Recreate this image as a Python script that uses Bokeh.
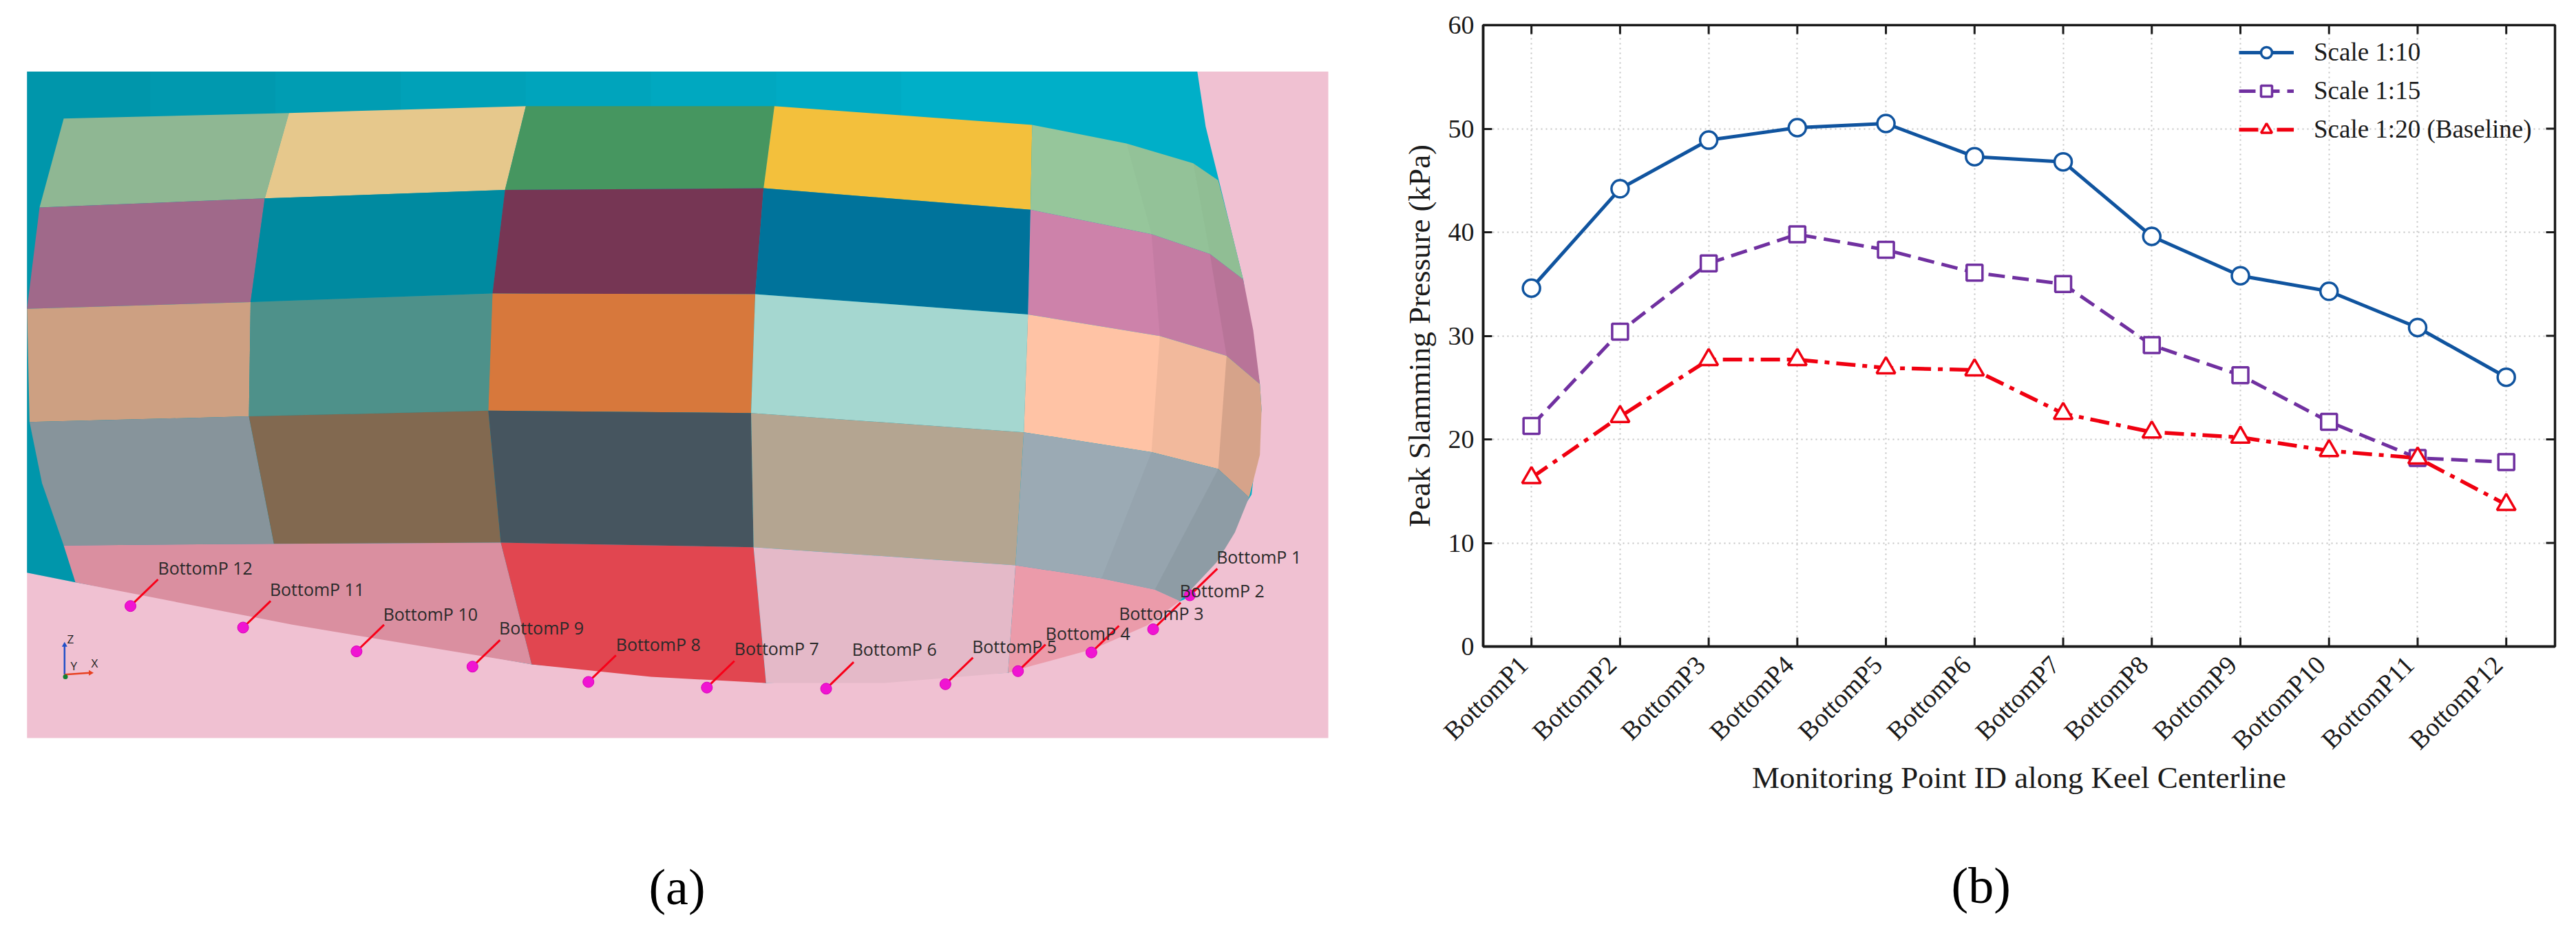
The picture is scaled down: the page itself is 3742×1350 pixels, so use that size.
from bokeh.plotting import figure
from bokeh.layouts import row
from bokeh.embed import file_html
from bokeh.resources import INLINE
from bokeh.models import FixedTicker, Legend, LegendItem, Range1d, Label, Title
from bokeh.core.properties import value
import math

# ---------- chart (b) data ----------
point_names = ["BottomP1", "BottomP2", "BottomP3", "BottomP4", "BottomP5", "BottomP6",
               "BottomP7", "BottomP8", "BottomP9", "BottomP10", "BottomP11", "BottomP12"]
point_ids = [1, 2, 3, 4, 5, 6, 7, 8, 9, 10, 11, 12]
scale_10 = [34.6, 44.2, 48.9, 50.1, 50.5, 47.3, 46.8, 39.6, 35.8, 34.3, 30.8, 26.0]
scale_15 = [21.3, 30.4, 37.0, 39.8, 38.3, 36.1, 35.0, 29.1, 26.2, 21.7, 18.2, 17.8]
scale_20 = [16.3, 22.2, 27.7, 27.7, 26.9, 26.7, 22.5, 20.7, 20.2, 18.9, 18.2, 13.7]
y_ticks = [0, 10, 20, 30, 40, 50, 60]

# ---------- panel (a) picture data (traced in picture units) ----------
bg_x = [32, 1592, 1592, 32]
bg_y = [53, 53, 1230, 1230]
teal_x = [32, 1435, 1445, 1460, 1490, 1510, 1512, 1500, 1420, 1208, 918, 637, 90, 32]
teal_y = [53, 53, 150, 240, 420, 605, 650, 800, 985, 1115, 1133, 1100, 955, 938]
band_x = [[32, 180, 180, 90, 32], [180, 330, 330, 180], [330, 480, 480, 330], [480, 630, 630, 480],
          [630, 780, 780, 630], [780, 930, 930, 780], [930, 1080, 1080, 930]]
band_y = [[53, 53, 890, 955, 938], [53, 53, 890, 890], [53, 53, 890, 890], [53, 53, 890, 890],
          [53, 53, 890, 890], [53, 53, 890, 890], [53, 53, 890, 890]]
band_alpha = [0.14, 0.12, 0.10, 0.08, 0.06, 0.04, 0.02]
grid_x = [[76, 346, 630, 928, 1237, 1350, 1430, 1460],
          [47, 317, 605, 915, 1235, 1380, 1450, 1490],
          [32, 300, 590, 905, 1232, 1390, 1470, 1510],
          [35, 298, 585, 900, 1227, 1380, 1460, 1497],
          [76, 328, 600, 903, 1217, 1320, 1384, 1414]]
grid_y = [[136, 126, 114, 114, 147, 180, 215, 245],
          [293, 277, 262, 259, 297, 340, 375, 420],
          [472, 460, 445, 446, 482, 520, 555, 605],
          [672, 662, 652, 656, 690, 725, 755, 805],
          [890, 887, 885, 893, 925, 948, 968, 988]]
edge_x = [[1475], [1502], [1512, 1510], [1480, 1458, 1430]]
edge_y = [[330], [510], [650, 730], [867, 920, 964]]
left_x = [[], [], [], [50]]
left_y = [[], [], [], [780]]
cell_colors = [["#8fb793", "#e6c88c", "#469660", "#f3c03c", "#96c69b"],
               ["#a0698a", "#008aa0", "#763654", "#00739b", "#cd82aa"],
               ["#cda082", "#4e918a", "#d7783c", "#a5d7d0", "#ffc3a5"],
               ["#87949b", "#826950", "#46555f", "#b4a591", "#9baab4"]]
shade_near = [0.015, 0.04, 0.05, 0.03]
shade_far = [0.04, 0.10, 0.16, 0.08]
keel_x = [[76, 328, 600, 637, 350, 90], [600, 903, 918, 780, 637], [903, 1217, 1208, 1060, 918],
          [1217, 1320, 1384, 1414, 1375, 1310, 1238, 1208]]
keel_y = [[890, 887, 885, 1100, 1030, 955], [885, 893, 1133, 1122, 1100], [893, 925, 1115, 1133, 1133],
          [925, 948, 968, 988, 1031, 1073, 1102, 1115]]
keel_colors = ["#da8fa0", "#e14650", "#e4b9c8", "#eb9baa"]
probe_names = ["BottomP 1", "BottomP 2", "BottomP 3", "BottomP 4", "BottomP 5", "BottomP 6",
               "BottomP 7", "BottomP 8", "BottomP 9", "BottomP 10", "BottomP 11", "BottomP 12"]
probe_x = [1426, 1382, 1308, 1220, 1133, 990, 847, 705, 566, 427, 291, 156]
probe_y = [978, 1038, 1079, 1112, 1135, 1143, 1141, 1131, 1104, 1077, 1035, 997]
label_x = [1458, 1414, 1341, 1253, 1165, 1021, 880, 738, 598, 459, 323, 189]
label_y = [910, 969, 1010, 1045, 1068, 1073, 1072, 1064, 1035, 1011, 967, 929]

SERIF = "Liberation Serif"

# ---------- panel (a) ----------
a = figure(width=1950, height=1334, output_backend="svg", toolbar_location=None,
           x_range=Range1d(0, 1609.3), y_range=Range1d(1548.6, -72.9),
           min_border=0, outline_line_color=None, frame_align=False)
a.axis.visible = False
a.grid.visible = False
a.patch(bg_x, bg_y, fill_color="#f0c1d2", line_color=None)
a.patch(teal_x, teal_y, fill_color="#00afc8", line_color=None)
a.patches(band_x, band_y, fill_color="#000000", fill_alpha=band_alpha, line_color=None)
xs, ys, cs = [], [], []
sx, sy, sa = [], [], []
for r in range(4):
    for c in range(5):
        idx = [c, c + 1] if c < 4 else [4, 5, 6, 7]
        px = [grid_x[r][i] for i in idx]
        py = [grid_y[r][i] for i in idx]
        if c == 4:
            px += edge_x[r]
            py += edge_y[r]
        px += [grid_x[r + 1][i] for i in reversed(idx)]
        py += [grid_y[r + 1][i] for i in reversed(idx)]
        if c == 0:
            px += left_x[r]
            py += left_y[r]
        xs.append(px)
        ys.append(py)
        cs.append(cell_colors[r][c])
    # darkening towards the turn of the hull on the right-hand side
    sx.append([grid_x[r][5], grid_x[r][6], grid_x[r + 1][6], grid_x[r + 1][5]])
    sy.append([grid_y[r][5], grid_y[r][6], grid_y[r + 1][6], grid_y[r + 1][5]])
    sa.append(shade_near[r])
    sx.append([grid_x[r][6], grid_x[r][7]] + edge_x[r] + [grid_x[r + 1][7], grid_x[r + 1][6]])
    sy.append([grid_y[r][6], grid_y[r][7]] + edge_y[r] + [grid_y[r + 1][7], grid_y[r + 1][6]])
    sa.append(shade_far[r])
a.patches(xs, ys, fill_color=cs, line_color=None)
a.patches(sx, sy, fill_color="#000000", fill_alpha=sa, line_color=None)
a.patches(keel_x, keel_y, fill_color=keel_colors, line_color=None)
a.segment(probe_x, probe_y, [x + 33 for x in probe_x], [y - 47 for y in probe_y],
          line_color="#f80018", line_width=3)
a.scatter(probe_x, probe_y, marker="circle", size=16, fill_color="#f014d2", line_color="#d800b8")
a.text(label_x, label_y, text=probe_names, text_font=value("Open Sans"), text_font_size="25px",
       text_color="#2a2a2a", text_baseline="middle", text_align="left")
a.segment([77, 77], [1118, 1118], [77, 107], [1068, 1115], line_color=["#2050c8", "#e84020"], line_width=2.5)
a.scatter([77], [1066], marker="triangle", size=8, fill_color="#2050c8", line_color=None)
a.scatter([108], [1115], marker="triangle", size=8, angle=-math.pi / 2, fill_color="#e84020", line_color=None)
a.scatter([78], [1122], marker="circle", size=7, fill_color="#108030", line_color=None)
a.text([84, 88, 113], [1055, 1103, 1098], text=["Z", "Y", "X"], text_font=value("Open Sans"),
       text_font_size="17px", text_color="#222222", text_baseline="middle", text_align="center")
a.add_layout(Label(x=983, y=1288, x_units="canvas", y_units="canvas", text="(a)", text_font=SERIF,
                   text_font_size="74px", text_align="center", text_baseline="middle", text_color="#000000"))

# ---------- panel (b) ----------
p = figure(width=1784, height=1342, output_backend="svg", toolbar_location=None,
           x_range=Range1d(0.455, 12.55), y_range=Range1d(0, 60),
           min_border_left=204, min_border_right=23, min_border_top=36, min_border_bottom=403,
           outline_line_color="#1a1a1a", outline_line_width=3.5, frame_align=False)
# the x labels sit 12 px left of their ticks, so their axis uses a range shifted by that much
p.extra_x_ranges = {"labels": Range1d(0.455 + 12 / 128.8, 12.55 + 12 / 128.8)}
p.xaxis.x_range_name = "labels"
p.xaxis.ticker = FixedTicker(ticks=point_ids)
p.yaxis.ticker = FixedTicker(ticks=y_ticks)
p.xaxis.major_label_overrides = {i: n for i, n in zip(point_ids, point_names)}
p.xaxis.major_label_orientation = math.pi / 4
p.xaxis.axis_label = "Monitoring Point ID along Keel Centerline"
p.yaxis.axis_label = "Peak Slamming Pressure (kPa)"
for ax in p.axis:
    ax.axis_line_color = "#1a1a1a"
    ax.axis_line_width = 3.5
    ax.major_tick_line_color = "#1a1a1a"
    ax.major_tick_line_width = 3
    ax.major_tick_in = 13
    ax.major_tick_out = 0
    ax.minor_tick_line_color = None
    ax.major_label_text_font = SERIF
    ax.major_label_text_color = "#1a1a1a"
    ax.major_label_text_font_size = "38px"
    ax.axis_label_text_font = SERIF
    ax.axis_label_text_font_style = "normal"
    ax.axis_label_text_color = "#1a1a1a"
    ax.axis_label_text_font_size = "45px"
p.xaxis[0].major_tick_line_color = None
p.yaxis[0].major_label_standoff = 13
p.xaxis[0].major_label_standoff = 20
p.xaxis[0].axis_label_standoff = -10
p.yaxis[0].axis_label_standoff = 14
p.xgrid[0].axis = None
p.xgrid[0].ticker = FixedTicker(ticks=point_ids)
p.grid.grid_line_color = "#c4c4c4"
p.grid.grid_line_width = 2
p.grid.grid_line_dash = "2 5"

# inward ticks on the bottom, top and right edges of the frame
p.segment(point_ids, [0] * 12, point_ids, [13 / 15.04] * 12, line_color="#1a1a1a", line_width=3)
p.segment(point_ids, [60] * 12, point_ids, [60 - 13 / 15.04] * 12, line_color="#1a1a1a", line_width=3)
p.segment([12.55] * 7, y_ticks, [12.55 - 13 / 128.8] * 7, y_ticks, line_color="#1a1a1a", line_width=3)

BLUE, PURPLE, RED = "#10549f", "#7030a0", "#f00010"
l1 = p.line(point_ids, scale_10, line_color=BLUE, line_width=5)
m1 = p.scatter(point_ids, scale_10, marker="circle", size=25, fill_color="white", line_color=BLUE, line_width=3.5)
l2 = p.line(point_ids, scale_15, line_color=PURPLE, line_width=5, line_dash="24 11")
m2 = p.scatter(point_ids, scale_15, marker="square", size=23, fill_color="white", line_color=PURPLE, line_width=3.5)
l3 = p.line(point_ids, scale_20, line_color=RED, line_width=5.5, line_dash="28 10 7 10")
m3 = p.scatter(point_ids, scale_20, marker="triangle", size=27, fill_color="white", line_color=RED, line_width=3.5)

legend = Legend(items=[LegendItem(label="Scale 1:10", renderers=[l1, m1]),
                       LegendItem(label="Scale 1:15", renderers=[l2, m2]),
                       LegendItem(label="Scale 1:20 (Baseline)", renderers=[l3, m3])],
                location=(1098, 730), background_fill_alpha=0, border_line_color=None,
                label_text_font=SERIF, label_text_font_size="37px", label_text_color="#1a1a1a",
                label_height=40, glyph_width=80, glyph_height=40, label_standoff=29,
                spacing=13, padding=0, margin=0)
p.add_layout(legend)
# a blank title acts as a spacer between the axis title and the panel caption
p.add_layout(Title(text="\u00a0", text_font=SERIF, text_font_size="10px", text_color="#ffffff",
                   standoff=71), "below")
p.add_layout(Title(text="(b)", text_font=SERIF, text_font_size="74px", text_font_style="normal",
                   text_color="#000000", align="left", offset=680, standoff=4), "below")

open("out.html", "w").write(file_html(row(a, p, spacing=0), INLINE))
